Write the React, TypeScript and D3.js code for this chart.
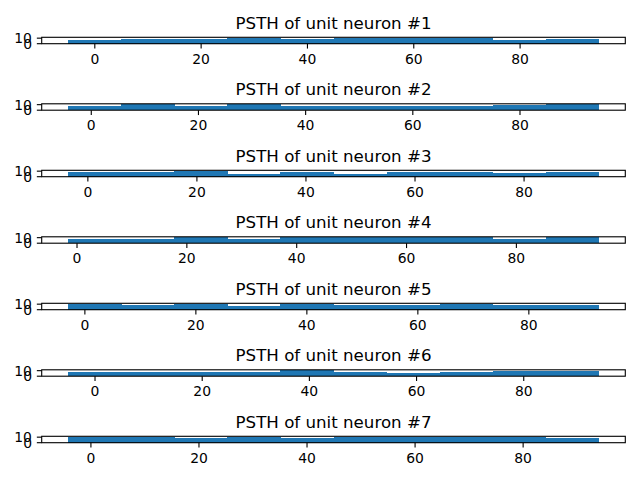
import * as React from "react";
import * as d3 from "d3";

// PSTH of 7 unit neurons, 10 bins each
const neuronIds = [1, 2, 3, 4, 5, 6, 7];
const binMin = [-5.0, -4.3, -3.6, -1.6, -3.0, -5.0, -4.2];
const binMax = [94.8, 94.7, 93.7, 95.0, 92.6, 94.0, 94.0];
const counts1 = [7, 9, 9, 11, 9, 11, 11, 11, 7, 9];
const counts2 = [8, 11, 7, 11, 8, 7, 7, 7, 9, 11];
const counts3 = [9, 9, 11, 4, 8, 4, 8, 8, 7, 8];
const counts4 = [8, 8, 11, 8, 11, 11, 11, 11, 8, 11];
const counts5 = [11, 9, 11, 7, 11, 9, 9, 11, 9, 9];
const counts6 = [7, 7, 7, 7, 11, 8, 5, 7, 9, 9];
const counts7 = [11, 11, 9, 11, 9, 11, 11, 11, 11, 9];
const allCounts = [counts1, counts2, counts3, counts4, counts5, counts6, counts7];
const xTicks = [0, 20, 40, 60, 80];
const yTicks = [0, 10];

const W = 640;
const H = 480;
const left = 41.7;
const right = 625.3;
const firstTop = 37.3;
const step = 66.5;
const axH = 6.4;
const tickLen = 4.86;
const pad = 4.86;
const lw = 1.11;
const font = "DejaVu Sans";

const Panel = ({ k }: { k: number }) => {
    const counts = allCounts[k];
    const lo = binMin[k], hi = binMax[k];
    const R = hi - lo;
    const top = firstTop + k * step;
    const bottom = top + axH;
    const x = d3.scaleLinear().domain([lo - 0.05 * R, hi + 0.05 * R]).range([left, right]);
    const y = d3.scaleLinear().domain([0, d3.max(counts)! * 1.05]).range([bottom, top]);
    const edges = d3.range(counts.length + 1).map(i => lo + (R * i) / counts.length);

    return (
        <g>
            <rect x={left} y={top} width={right - left} height={axH} fill="#fff" />
            <g shapeRendering="crispEdges">
                {counts.map((c, i) => (
                    <rect key={i}
                        x={x(edges[i])}
                        width={x(edges[i + 1]) - x(edges[i]) + 0.5}
                        y={y(c)}
                        height={y(0) - y(c)}
                        fill="#1f77b4" />
                ))}
            </g>
            <rect x={left} y={top} width={right - left} height={axH}
                fill="none" stroke="#000" strokeWidth={lw} />
            {xTicks.map(t => (
                <g key={t}>
                    <line x1={x(t)} x2={x(t)} y1={bottom} y2={bottom + tickLen} stroke="#000" strokeWidth={lw} />
                    <text x={x(t)} y={bottom + tickLen + pad + 10.2} textAnchor="middle"
                        fontFamily={font} fontSize={13.9} fill="#000">{t}</text>
                </g>
            ))}
            {yTicks.map(t => (
                <g key={t}>
                    <line x1={left - tickLen} x2={left} y1={y(t)} y2={y(t)} stroke="#000" strokeWidth={lw} />
                    <text x={left - tickLen - pad} y={y(t) + 5} textAnchor="end"
                        fontFamily={font} fontSize={13.9} fill="#000">{t}</text>
                </g>
            ))}
            <text x={(left + right) / 2} y={top - 8.33} textAnchor="middle"
                fontFamily={font} fontSize={16.67} fill="#000">
                {`PSTH of unit neuron #${neuronIds[k]}`}
            </text>
        </g>
    );
};

export default function App() {
    return (
        <svg width={W} height={H} style={{ position: "absolute", left: 0, top: 0, background: "#fff" }}>
            <rect width={W} height={H} fill="#fff" />
            {neuronIds.map((_, k) => <Panel key={k} k={k} />)}
        </svg>
    );
}
